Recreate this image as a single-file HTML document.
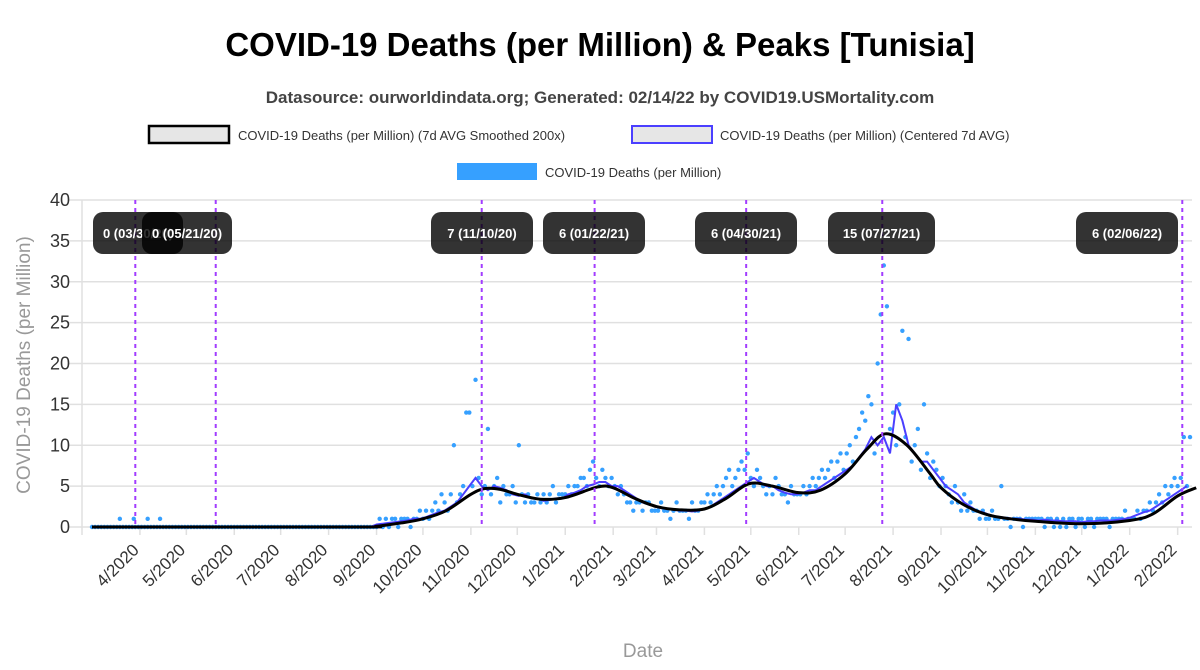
<!DOCTYPE html>
<html><head><meta charset="utf-8"><style>
body{margin:0;background:#fff;font-family:"Liberation Sans",sans-serif;}
svg{display:block}
</style></head><body>
<svg id="chart" width="1200" height="670" xmlns="http://www.w3.org/2000/svg">
<text x="600" y="56" text-anchor="middle" font-size="33" font-weight="bold" fill="#000">COVID-19 Deaths (per Million) &amp; Peaks [Tunisia]</text>
<text x="600" y="103" text-anchor="middle" font-size="17" font-weight="bold" fill="#444">Datasource: ourworldindata.org; Generated: 02/14/22 by COVID19.USMortality.com</text>
<g font-size="13" fill="#333">
<g><rect x="149" y="126" width="80" height="17" fill="#e6e6e6" stroke="#000" stroke-width="2.5"/><text x="238" y="140">COVID-19 Deaths (per Million) (7d AVG Smoothed 200x)</text></g>
<g><rect x="632" y="126" width="80" height="17" fill="#e6e6e6" stroke="#4b3fff" stroke-width="2"/><text x="720" y="140">COVID-19 Deaths (per Million) (Centered 7d AVG)</text></g>
<g><rect x="457" y="163" width="80" height="17" fill="#36a0ff"/><text x="545" y="177">COVID-19 Deaths (per Million)</text></g>
</g>
<g id="grid"></g><g id="axes"></g><g id="series"></g><g id="peaks"></g>
<text transform="translate(30,365) rotate(-90)" text-anchor="middle" font-size="19" fill="#999">COVID-19 Deaths (per Million)</text>
<text x="643" y="657" text-anchor="middle" font-size="19" fill="#999">Date</text>
</svg>
<script>
const yTicks=[0,5,10,15,20,25,30,35,40];
const monthLabels=["4/2020","5/2020","6/2020","7/2020","8/2020","9/2020","10/2020","11/2020","12/2020","1/2021","2/2021","3/2021","4/2021","5/2021","6/2021","7/2021","8/2021","9/2021","10/2021","11/2021","12/2021","1/2022","2/2022"];
const monthDays=[31,61,92,122,153,184,214,245,275,306,337,365,396,426,457,487,518,549,579,610,640,671,702];
const earlyDotDays=[18,27,36,44];
const earlyDotValues=[1,1,1,1];
const dotStartDay=184;
const dotValues=[0,1,0,1,0,1,1,0,1,1,1,0,1,1,2,
1,2,1,2,3,2,4,3,2,4,10,3,4,5,14,14,
5,18,6,4,5,12,4,5,6,3,5,4,4,5,3,
10,4,3,4,3,3,4,3,4,3,4,5,3,4,4,
4,5,4,5,5,6,6,5,7,8,6,5,7,6,5,
6,5,4,5,4,3,3,2,3,3,2,3,3,2,
2,2,3,2,2,1,2,3,2,2,2,1,3,2,2,3,
3,4,3,4,5,4,5,6,7,5,6,7,8,7,9,
6,5,7,6,5,4,5,4,6,5,4,4,3,5,4,4,
4,5,4,5,6,5,6,7,6,7,8,6,8,9,7,
9,10,8,11,12,14,13,16,15,9,20,26,32,27,12,
14,10,15,24,11,23,8,10,12,7,15,9,6,8,7,5,
6,5,4,3,5,3,2,4,2,3,2,2,1,2,1,
1,2,1,1,5,1,1,0,1,1,1,0,1,1,1,1,
1,1,0,1,1,0,1,0,1,0,1,1,0,1,1,
0,1,1,0,1,1,1,1,0,1,1,1,1,2,1,1,
1,2,1,2,2,3,2,3,4,3,5,4,5,6,5,
6,11,5,11,5,5,5];
const avgStartDay=184;
const avgValues=[0.3,0.4,0.5,0.6,0.7,0.8,1,1,
1.2,1.5,1.8,2,2.5,3,4,5,
6,5,4.5,5,4.8,4.5,4,3.8,
4,3.5,3.5,3.2,3.3,3.5,3.5,4,
4.2,4.5,5,5.2,5.5,5.5,5,5,
4.5,4,3.5,3,2.8,2.5,2.3,2.2,
2.1,2,2,1.9,2,2.2,2.5,3,
3.5,4,4.5,5,5.5,6,5.5,5,
5,4.5,4.2,4,4,4.2,4.5,4.5,
5,5.5,6,6.5,7,7.5,8.5,9.5,
11,10,11,9,15,13,10,9,
8,8,7,6,5,4.5,4,3,
2.5,2,1.8,1.5,1.3,1.2,1.1,1,
1,0.9,0.9,0.8,0.9,0.8,0.8,0.7,
0.7,0.7,0.6,0.7,0.7,0.8,0.8,0.8,
0.9,1,1.2,1.5,1.8,2,2.5,3,
3.5,4,4.5,5,5,5];
const smoothDays=[0,170,184,200,214,229,245,254,264,275,290,306,327,337,351,365,380,396,410,425,440,457,471,487,501,513,527,542,549,563,579,594,610,640,671,686,702,714];
const smoothValues=[0,0,0.1,0.5,1,2,4,4.7,4.6,4,3.4,3.6,4.9,4.8,3.5,2.5,2.1,2.2,3.5,5.3,5,4.2,4.5,6.5,9.5,11.4,10,6.5,4.8,2.8,1.5,1,0.7,0.4,0.8,1.6,3.8,4.8];
const peakLabels=["0 (03/30/20)","0 (05/21/20)","7 (11/10/20)","6 (01/22/21)","6 (04/30/21)","15 (07/27/21)","6 (02/06/22)"];
const peakDays=[28,80,252,325,423,511,705];

const NS="http://www.w3.org/2000/svg";
const X0=92,PXD=1.5465,Y0=527,PXU=8.175,XL=82,XR=1192;
const xs=d=>X0+d*PXD, ys=v=>Y0-v*PXU;
function mk(tag,attrs,parent){const e=document.createElementNS(NS,tag);for(const k in attrs)e.setAttribute(k,attrs[k]);parent.appendChild(e);return e;}
const grid=document.getElementById('grid'),axes=document.getElementById('axes'),series=document.getElementById('series'),peaks=document.getElementById('peaks');
yTicks.forEach(t=>{
 const l=mk('line',{x1:68,x2:XR,y1:ys(t),y2:ys(t),stroke:'#e0e0e0','stroke-width':1.5},grid);
 
 
 const tx=mk('text',{x:70,y:ys(t)+6,'text-anchor':'end','font-size':18,fill:'#333'},axes);
 tx.textContent=t;
 
 
});
const ya=mk('line',{x1:XL,x2:XL,y1:200,y2:535,stroke:'#e0e0e0','stroke-width':1.5},axes);


monthDays.forEach((d,i)=>{
 const x=xs(d);
 const tk=mk('line',{x1:x,x2:x,y1:Y0,y2:Y0+8,stroke:'#e0e0e0','stroke-width':1.5},axes);
 
 
 const tx=mk('text',{x:x,y:Y0+24,'text-anchor':'end','font-size':17,fill:'#333',transform:`rotate(-45 ${x} ${Y0+24})`},axes);
 tx.textContent=monthLabels[i];
 
 
});
const allDots=[];
for(let d=0;d<dotStartDay;d+=2)allDots.push([d,0]);
earlyDotDays.forEach((d,i)=>allDots.push([d,earlyDotValues[i]]));
dotValues.forEach((v,i)=>allDots.push([dotStartDay+i*2,v]));
allDots.forEach(([d,v])=>{
 const x=xs(d); if(x>XR)return;
 const c=mk('circle',{cx:x,cy:ys(v),r:2.2,fill:'#36a0ff'},series);
 
 
});
let pts=[];
for(let d=0;d<avgStartDay;d+=4)pts.push([d,0]);
avgValues.forEach((v,i)=>pts.push([avgStartDay+i*4,v]));
pts=pts.filter(p=>xs(p[0])<=XR);
const ca=mk('polyline',{points:pts.map(p=>xs(p[0]).toFixed(1)+','+ys(p[1]).toFixed(1)).join(' '),fill:'none',stroke:'#4b3fff','stroke-width':2},series);


const sp=smoothDays.map((d,i)=>[xs(d),ys(smoothValues[i])]);
let dstr=`M${sp[0][0]},${sp[0][1]}`;
for(let i=0;i<sp.length-1;i++){const p0=sp[Math.max(0,i-1)],p1=sp[i],p2=sp[i+1],p3=sp[Math.min(sp.length-1,i+2)];
 dstr+=` C${p1[0]+(p2[0]-p0[0])/6},${p1[1]+(p2[1]-p0[1])/6} ${p2[0]-(p3[0]-p1[0])/6},${p2[1]-(p3[1]-p1[1])/6} ${p2[0]},${p2[1]}`;}
const sm=mk('path',{d:dstr,fill:'none',stroke:'#000','stroke-width':3},series);


const boxLeft=[93,142,431,543,695,828,1076];
peakDays.forEach((d,i)=>{
 const x=xs(d);
 const l=mk('line',{x1:x,x2:x,y1:200,y2:Y0,stroke:'#a23cff','stroke-width':2,'stroke-dasharray':'4,4'},peaks);
 
 
});
peakDays.forEach((d,i)=>{
 const w=peakLabels[i].length>12?107:(i<2?90:102);
 const g=mk('g',{},peaks);
 
 
 mk('rect',{x:boxLeft[i],y:212,width:w,height:42,rx:10,fill:'rgba(0,0,0,0.8)'},g);
 const t=mk('text',{x:boxLeft[i]+w/2,y:238,'text-anchor':'middle','font-size':13,'font-weight':'bold',fill:'#fff'},g);
 t.textContent=peakLabels[i];
});
</script>
</body></html>
